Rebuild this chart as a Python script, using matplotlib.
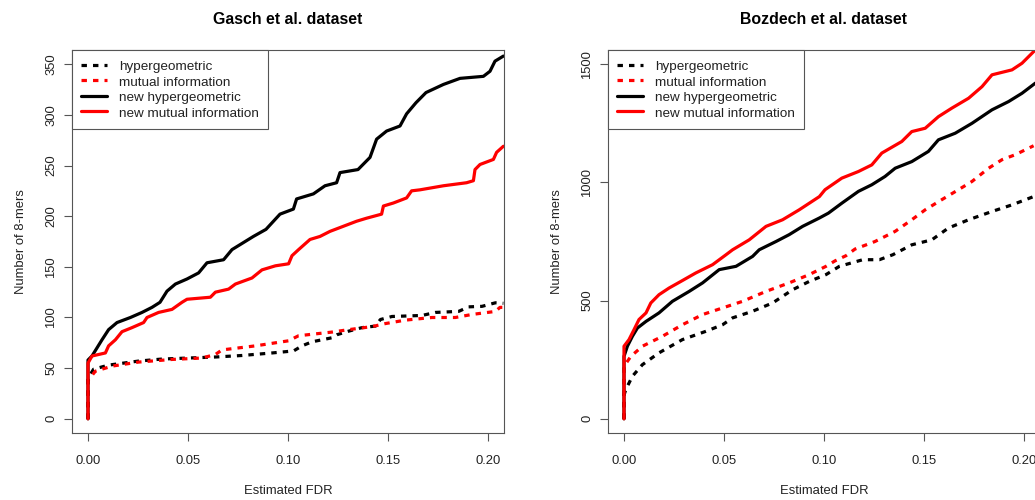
import matplotlib
matplotlib.use("Agg")
import matplotlib.pyplot as plt

# ---------------- data: Gasch et al. dataset ----------------
gasch_hyper_x = [0, 0, 0.0028, 0.0103, 0.0253, 0.037, 0.0503, 0.0637, 0.077, 0.092, 0.1028, 0.107,
                 0.112, 0.122, 0.1245, 0.1303, 0.137, 0.1437, 0.1462, 0.152, 0.167, 0.1737, 0.1853,
                 0.1903, 0.197, 0.2037, 0.2077]
gasch_hyper_y = [0, 40, 49, 53, 57, 59, 60, 61, 62.5, 65, 67, 72, 76, 80, 83, 86.5, 90, 91.5, 98,
                 101, 102, 105, 106, 110.5, 111, 114.5, 114]

gasch_mi_x = [0, 0, 0.0037, 0.012, 0.0253, 0.042, 0.057, 0.0637, 0.067, 0.0837, 0.1003, 0.1053,
              0.122, 0.1303, 0.142, 0.1487, 0.1587, 0.172, 0.1837, 0.192, 0.2037, 0.206, 0.2077]
gasch_mi_y = [0, 38, 47, 52, 56, 58.6, 60, 63.5, 68, 72, 77, 82, 85.6, 88, 91, 94, 97.4, 100,
              100, 103, 106, 110, 110]

gasch_newhyper_x = [0, 0, 0.002, 0.0045, 0.007, 0.0103, 0.0145, 0.0212, 0.027, 0.032, 0.036, 0.0395,
                    0.0437, 0.0495, 0.0553, 0.0595, 0.0678, 0.072, 0.0827, 0.089, 0.096, 0.1027,
                    0.1043, 0.1127, 0.1185, 0.1243, 0.126, 0.135, 0.141, 0.1443, 0.1493, 0.156,
                    0.1593, 0.164, 0.169, 0.1777, 0.186, 0.1977, 0.201, 0.2035, 0.2077]
gasch_newhyper_y = [0, 58, 62, 70, 78, 88, 95, 100, 105, 110, 115, 126, 133, 138, 144, 154, 157, 167,
                    180, 187, 202, 207, 217, 222, 230, 233, 243, 246, 258, 276, 284, 289, 301, 312,
                    322, 330, 336, 338, 343, 353, 358]

gasch_newmi_x = [0, 0, 0.002, 0.0087, 0.0103, 0.0137, 0.017, 0.022, 0.0278, 0.0295, 0.0353, 0.042,
                 0.047, 0.0495, 0.0612, 0.0637, 0.0703, 0.0737, 0.082, 0.087, 0.0937, 0.1003, 0.102,
                 0.1053, 0.111, 0.116, 0.121, 0.1343, 0.1393, 0.1468, 0.1477, 0.1527, 0.1593,
                 0.1618, 0.166, 0.1777, 0.1893, 0.1927, 0.1935, 0.196, 0.2027, 0.2043, 0.2077]
gasch_newmi_y = [0, 55, 62, 65, 72, 78, 86, 90, 95, 100, 105, 108, 115, 118, 120, 125, 128, 133,
                 139, 147, 151, 153, 161, 167, 177, 180, 185, 195, 198, 202, 210, 213, 218, 225,
                 226, 230, 233, 235, 246, 251, 256, 263, 269]

# ---------------- data: Bozdech et al. dataset ----------------
boz_hyper_x = [0, 0, 0.0009, 0.0042, 0.0092, 0.0175, 0.0292, 0.0409, 0.0493, 0.0543, 0.0643, 0.0743,
               0.0843, 0.0926, 0.101, 0.1077, 0.1194, 0.1277, 0.1344, 0.1439, 0.1539, 0.1622,
               0.1723, 0.184, 0.194, 0.2048]
boz_hyper_y = [0, 100, 124, 180, 229, 279, 335, 370, 398, 427, 455, 490, 546, 581, 610, 645, 673,
               673, 694, 736, 757, 807, 842, 877, 905, 940]

boz_mi_x = [0, 0, 0.0034, 0.0092, 0.0192, 0.0292, 0.0393, 0.0493, 0.0593, 0.071, 0.0826, 0.0926,
            0.101, 0.1055, 0.111, 0.1155, 0.1255, 0.1356, 0.1439, 0.1506, 0.1589, 0.1672, 0.174,
            0.1823, 0.189, 0.1956, 0.2048]
boz_mi_y = [0, 222, 264, 307, 349, 398, 441, 469, 497, 539, 575, 610, 645, 668, 690, 718, 750, 793,
            842, 884, 927, 969, 1004, 1060, 1096, 1117, 1155]

boz_newhyper_x = [0, 0, 0.0017, 0.0042, 0.0067, 0.011, 0.0175, 0.0242, 0.0326, 0.0393, 0.0476,
                  0.056, 0.0643, 0.0676, 0.076, 0.0826, 0.0893, 0.0976, 0.1022, 0.1089, 0.1172,
                  0.1239, 0.1305, 0.1356, 0.1439, 0.1522, 0.1572, 0.1656, 0.174, 0.184, 0.1923,
                  0.199, 0.2057]
boz_newhyper_y = [0, 264, 307, 349, 384, 412, 448, 497, 539, 575, 631, 645, 687, 715, 750, 779, 814,
                  849, 870, 912, 962, 990, 1025, 1060, 1088, 1131, 1180, 1208, 1250, 1307, 1342,
                  1377, 1420]

boz_newmi_x = [0, 0, 0.0025, 0.005, 0.0075, 0.011, 0.0134, 0.0175, 0.0225, 0.0284, 0.0359, 0.0443,
               0.051, 0.0543, 0.0626, 0.071, 0.0793, 0.0876, 0.0977, 0.1005, 0.1089, 0.1172,
               0.1239, 0.1289, 0.1389, 0.1439, 0.1506, 0.1572, 0.1639, 0.1723, 0.179, 0.184,
               0.194, 0.199, 0.2048, 0.209]
boz_newmi_y = [0, 307, 335, 377, 420, 448, 490, 525, 553, 581, 617, 652, 694, 715, 757, 814, 842,
               884, 940, 969, 1018, 1046, 1074, 1124, 1173, 1215, 1229, 1278, 1314, 1356, 1405,
               1455, 1476, 1504, 1553, 1580]

series_labels = ["hypergeometric", "mutual information", "new hypergeometric", "new mutual information"]
titles = ["Gasch et al. dataset", "Bozdech et al. dataset"]
x_ticks = [0.00, 0.05, 0.10, 0.15, 0.20]
x_ticklabels = ["0.00", "0.05", "0.10", "0.15", "0.20"]
gasch_yticks = [0, 50, 100, 150, 200, 250, 300, 350]
boz_yticks = [0, 500, 1000, 1500]
xlabel = "Estimated FDR"
ylabel = "Number of 8-mers"

# ---------------- styling ----------------
plt.rcParams['font.family'] = ['Liberation Sans', 'DejaVu Sans']
W, H = 1035, 500
fig = plt.figure(figsize=(W / 100, H / 100), dpi=100)
fig.patch.set_facecolor('white')

AX_COL = '#555555'
TXT_COL = '#222222'
LW = 2.3
DASH = (1.7, 1.9)
FS = 9.4
LEG_FS = 9.7

def make_panel(rect, title, series, yticks, ylim):
    ax = fig.add_axes(rect)
    styles = [('black', DASH), ('red', DASH), ('black', None), ('red', None)]
    handles = []
    for (xs, ys), (col, dash), lab in zip(series, styles, series_labels):
        if dash is None:
            ln, = ax.plot(xs, ys, color=col, lw=LW, solid_capstyle='round',
                          solid_joinstyle='round', label=lab)
        else:
            ln, = ax.plot(xs, ys, color=col, lw=LW, dashes=dash, dash_capstyle='butt',
                          dash_joinstyle='round', label=lab)
        handles.append(ln)
    ax.set_xlim(-0.008, 0.208)
    ax.set_ylim(*ylim)
    ax.set_xticks(x_ticks)
    ax.set_xticklabels(x_ticklabels)
    ax.set_yticks(yticks)
    ax.set_yticklabels([str(v) for v in yticks], rotation=90, va='center')
    for sp in ax.spines.values():
        sp.set_color(AX_COL)
        sp.set_linewidth(0.8)
    ax.tick_params(axis='both', direction='out', length=5.5, width=0.8, color=AX_COL,
                   labelsize=FS, labelcolor=TXT_COL)
    ax.tick_params(axis='x', pad=10)
    ax.tick_params(axis='y', pad=5)
    ax.set_title(title, fontsize=11.4, fontweight='bold', pad=18.5, color='black')
    ax.set_xlabel(xlabel, fontsize=FS, color=TXT_COL, va='center')
    ax.xaxis.set_label_coords(0.5, -(490.5 - 433) / 383)
    ax.set_ylabel(ylabel, fontsize=FS, color=TXT_COL, va='center')
    ax.yaxis.set_label_coords(-(72 - 21) / 432, 0.5)
    leg = ax.legend(handles=handles, loc='upper left', bbox_to_anchor=(0, 1), borderaxespad=0,
                    fontsize=LEG_FS, frameon=True, fancybox=False, framealpha=1,
                    edgecolor=AX_COL, handlelength=1.93, handletextpad=0.89,
                    handleheight=1.14, borderpad=0.68, labelspacing=0.1)
    leg.get_frame().set_linewidth(0.8)
    for t in leg.get_texts():
        t.set_color(TXT_COL)
    return ax

make_panel([72 / W, 67 / H, 432 / W, 383 / H], titles[0],
           [(gasch_hyper_x, gasch_hyper_y), (gasch_mi_x, gasch_mi_y),
            (gasch_newhyper_x, gasch_newhyper_y), (gasch_newmi_x, gasch_newmi_y)],
           gasch_yticks, (-14, 364))
make_panel([608 / W, 67 / H, 432 / W, 383 / H], titles[1],
           [(boz_hyper_x, boz_hyper_y), (boz_mi_x, boz_mi_y),
            (boz_newhyper_x, boz_newhyper_y), (boz_newmi_x, boz_newmi_y)],
           boz_yticks, (-60, 1560))

fig.savefig("out.png", dpi=100)
